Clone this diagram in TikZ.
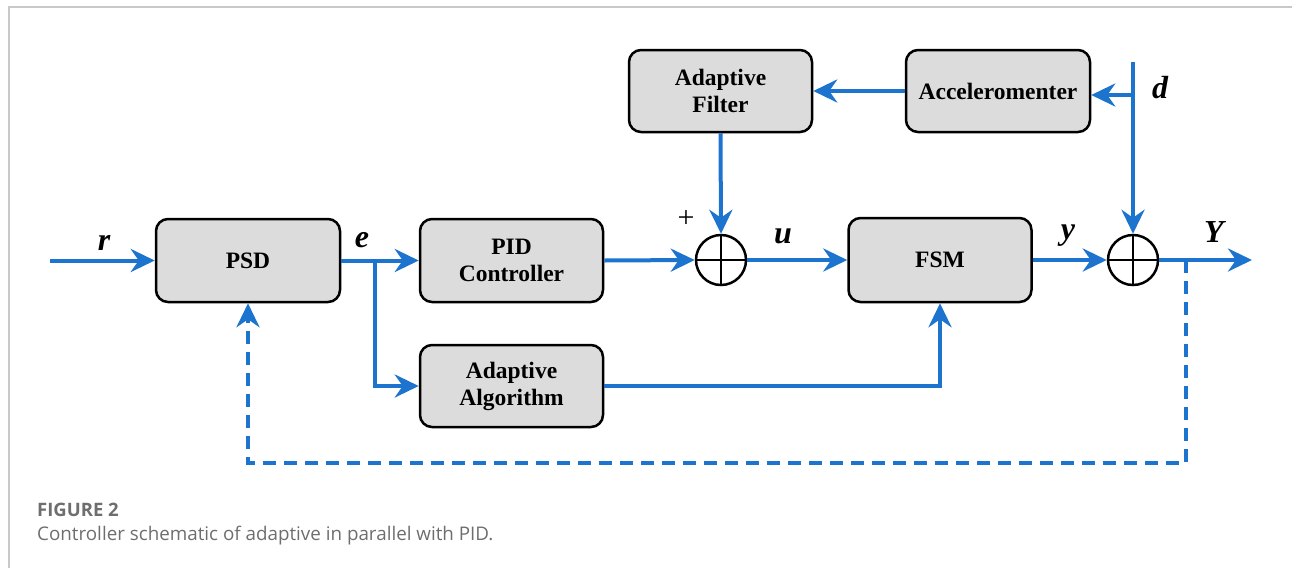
\documentclass[tikz,border=0pt]{standalone}
\usepackage{fontspec}
\setmainfont{Liberation Serif}
\newfontfamily\capfont{Open Sans}
\usetikzlibrary{arrows.meta}
\definecolor{flow}{RGB}{28,116,206}
\definecolor{boxfill}{RGB}{220,220,220}
\definecolor{capgray}{RGB}{110,110,110}
\definecolor{framegray}{RGB}{200,200,200}
\tikzset{
  blk/.style={draw=black, line width=2.5pt, fill=boxfill, rounded corners=12pt,
    align=center, font=\fontsize{23.5}{27}\selectfont\bfseries, inner sep=0pt},
  sumnode/.style={draw=black, line width=2.5pt, circle, minimum size=50pt, inner sep=0pt,
    path picture={\draw[black, line width=2pt] (path picture bounding box.north) -- (path picture bounding box.south)
      (path picture bounding box.west) -- (path picture bounding box.east);}},
  arr/.style={draw=flow, line width=4pt, -{Stealth[length=24pt,width=23pt,inset=8pt]}},
  fbline/.style={arr, dash pattern=on 13pt off 8pt},
  sig/.style={font=\fontsize{32}{32}\selectfont\bfseries\itshape, inner sep=0pt},
  captitle/.style={font=\capfont\fontsize{18.5}{20}\selectfont\bfseries, text=capgray, anchor=west, inner sep=0pt},
  captext/.style={font=\capfont\fontsize{18.8}{20}\selectfont, text=capgray, anchor=west, inner sep=0pt}
}
\begin{document}
\begin{tikzpicture}[x=1pt,y=-1pt]
\useasboundingbox (0,0) rectangle (1292,568);
\draw[framegray, line width=1.5pt] (9,568) -- (9,7) -- (1292,7);

% blocks
\node[blk, minimum width=184pt, minimum height=83pt] (psd) at (248,260.5) {PSD};
\node[blk, minimum width=183pt, minimum height=83pt] (pid) at (511.5,260.5) {PID\\Controller};
\node[blk, minimum width=183pt, minimum height=82pt] (aa) at (511.5,386) {Adaptive\\Algorithm};
\node[blk, minimum width=183pt, minimum height=84pt] (fsm) at (940,260) {FSM};
\node[blk, minimum width=183pt, minimum height=82pt] (af) at (720.5,91) {Adaptive\\Filter};
\node[blk, minimum width=184pt, minimum height=82pt] (acc) at (998,91) {Acceleromenter};

% summing junctions
\node[sumnode] (s1) at (721,260) {};
\node[sumnode] (s2) at (1133,260) {};

% helper coordinates
\coordinate (rin) at (50,260.5);
\coordinate (eb) at (375,260.5);
\coordinate (yout) at (1252,260);
\coordinate (dtop) at (1133,62);
\coordinate (db) at (1133,95);
\coordinate (fb) at (1186,260);
\coordinate (fbc) at (1186,463);

% connectors
\draw[arr] (rin) -- (psd.west);
\draw[arr] (psd.east) -- (pid.west);
\draw[arr] (eb) |- (aa.west);
\draw[arr] (pid.east) -- (s1.west);
\draw[arr] (af.south) -- (s1.north);
\draw[arr] (s1.east) -- (fsm.west);
\draw[arr] (aa.east) -| (fsm.south);
\draw[arr] (fsm.east) -- (s2.west);
\draw[arr] (s2.east) -- (yout);
\draw[arr] (dtop) -- (s2.north);
\draw[arr] (db) -- (db -| acc.east);
\draw[arr] (acc.west) -- (af.east);
\draw[fbline] (fb) -- (fbc) -| (psd.south);

% labels
\node[sig] (lr) at (104,243) {r};
\node[sig] (le) at (362,240) {e};
\node[sig] (lu) at (783,236) {u};
\node[sig] (ly) at (1068,236) {y};
\node[sig] (lY) at (1214,232) {Y};
\node[sig] (ld) at (1160,88) {d};
\node[font=\fontsize{30}{30}\selectfont, inner sep=0pt] (plus) at (686,219) {+};

% caption
\node[captitle] (ft) at (37,510) {FIGURE 2};
\node[captext] (fc) at (37,536) {Controller schematic of adaptive in parallel with PID.};
\end{tikzpicture}
\end{document}
